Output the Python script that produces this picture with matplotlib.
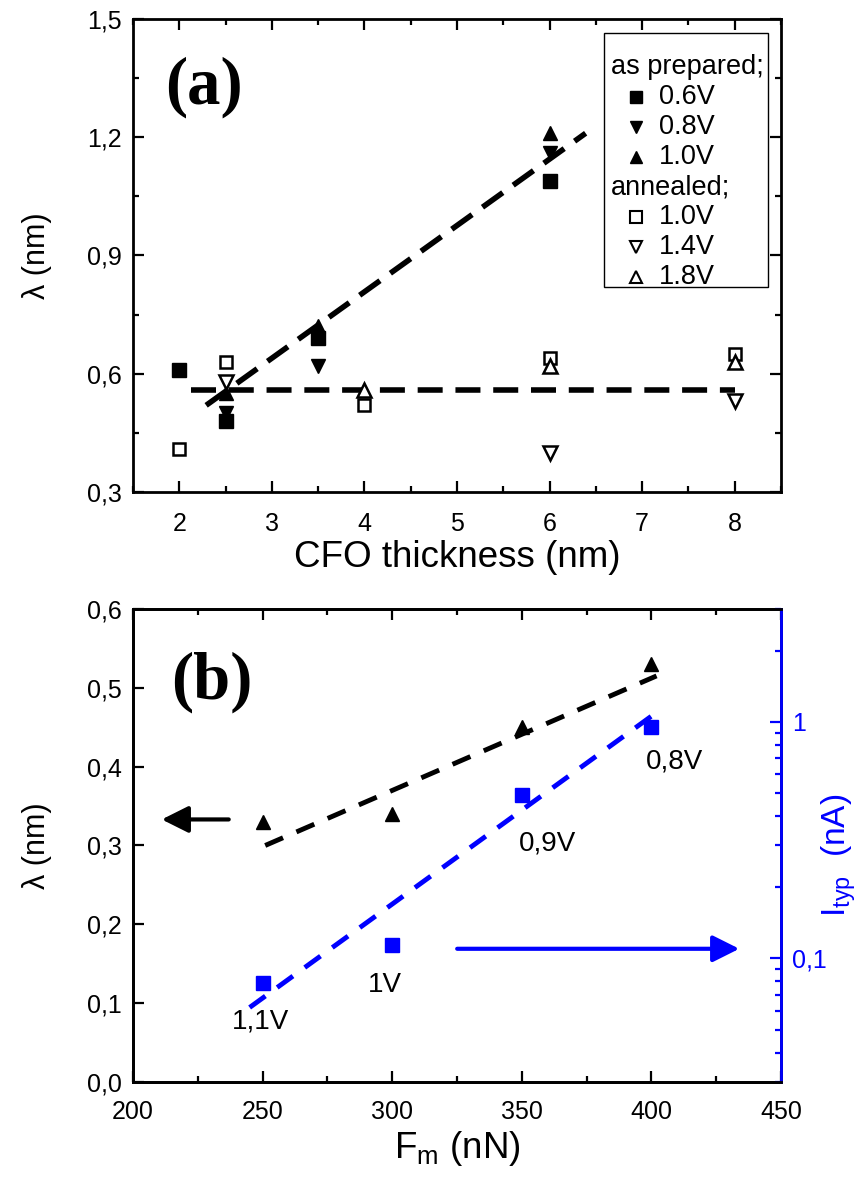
import matplotlib
matplotlib.use('Agg')
import matplotlib.pyplot as plt
from matplotlib.ticker import MultipleLocator, FuncFormatter, LogLocator, NullFormatter
from matplotlib.patches import Rectangle

plt.rcParams.update({
    'font.family': ['Liberation Sans', 'DejaVu Sans'],
    'font.size': 18,
    'axes.linewidth': 2.0,
    'xtick.direction': 'in',
    'ytick.direction': 'in',
    'xtick.top': True,
    'ytick.right': True,
    'xtick.major.size': 8,
    'ytick.major.size': 8,
    'xtick.minor.size': 4.5,
    'ytick.minor.size': 4.5,
    'xtick.major.width': 1.6,
    'ytick.major.width': 1.6,
    'xtick.minor.width': 1.6,
    'ytick.minor.width': 1.6,
})

# ---- panel (a): lambda vs CFO thickness ----
x_06 = [2, 2.5, 3.5, 6]
lam_06 = [0.61, 0.48, 0.69, 1.09]
x_08 = [2.5, 3.5, 6]
lam_08 = [0.50, 0.62, 1.16]
x_10 = [2.5, 3.5, 6]
lam_10 = [0.55, 0.72, 1.21]
x_an10 = [2, 2.5, 4, 6, 8]
lam_an10 = [0.41, 0.63, 0.52, 0.64, 0.65]
x_an14 = [2.5, 6, 8]
lam_an14 = [0.58, 0.40, 0.53]
x_an18 = [4, 6, 8]
lam_an18 = [0.56, 0.62, 0.63]

fit_flat_x = [2.13, 8.0]
fit_flat_y = [0.56, 0.56]
fit_rise_x = [2.29, 6.39]
fit_rise_y = [0.52, 1.21]

# ---- panel (b): lambda and I_typ vs load force ----
force = [250, 300, 350, 400]
lam_b = [0.33, 0.34, 0.45, 0.53]
i_typ = [0.0785, 0.114, 0.49, 0.95]
bias_labels = ['1,1V', '1V', '0,9V', '0,8V']
bias_x = [249, 297, 360, 409]
bias_y = [0.077, 0.123, 0.302, 0.407]

fit_lam_x = [251, 402]
fit_lam_y = [0.30, 0.515]
fit_i_x = [245, 402]
fit_i_y = [0.062, 1.095]

comma = FuncFormatter(lambda v, p: f'{v:.1f}'.replace('.', ','))

fig = plt.figure(figsize=(8.66, 11.8), dpi=100)
ax1 = fig.add_axes([0.1536, 0.583, 0.7482, 0.401])
ax2 = fig.add_axes([0.1536, 0.083, 0.7482, 0.401])

ms = 9.5
ax1.plot(fit_rise_x, fit_rise_y, color='k', lw=4, dashes=(4.5, 2.3), zorder=3)
ax1.plot(fit_flat_x, fit_flat_y, color='k', lw=4, dashes=(4.5, 2.3), zorder=3)
ax1.plot(x_06, lam_06, 's', color='k', ms=ms, zorder=4)
ax1.plot(x_08, lam_08, 'v', color='k', ms=ms + 1, zorder=4)
ax1.plot(x_10, lam_10, '^', color='k', ms=ms + 1, zorder=4)
ax1.plot(x_an10, lam_an10, 's', mfc='white', mec='k', mew=1.8, ms=ms - 1.5, zorder=4)
ax1.plot(x_an14, lam_an14, 'v', mfc='white', mec='k', mew=1.8, ms=ms, zorder=4)
ax1.plot(x_an18, lam_an18, '^', mfc='white', mec='k', mew=1.8, ms=ms, zorder=4)

ax1.set_xlim(1.5, 8.5)
ax1.set_ylim(0.3, 1.5)
ax1.xaxis.set_major_locator(MultipleLocator(1))
ax1.xaxis.set_minor_locator(MultipleLocator(0.5))
ax1.yaxis.set_major_locator(MultipleLocator(0.3))
ax1.yaxis.set_minor_locator(MultipleLocator(0.15))
ax1.yaxis.set_major_formatter(comma)
ax1.tick_params(axis='y', labelsize=18, pad=8)
ax1.tick_params(axis='x', labelsize=18, pad=14)
ax1.set_xlabel('CFO thickness (nm)', fontsize=26.5, labelpad=3.5)
ax1.set_ylabel('λ (nm)', fontsize=22)
ax1.yaxis.set_label_coords(-0.125, 0.5)
ax1.text(0.11, 0.856, '(a)', transform=ax1.transAxes, fontsize=48, fontweight='bold',
         family='Liberation Serif', ha='center', va='center')

# legend box drawn by hand
ax1.add_patch(Rectangle((0.727, 0.433), 0.253, 0.537, transform=ax1.transAxes,
                        fc='white', ec='k', lw=1.0, zorder=5))
leg_rows = [
    ('as prepared;', None, {}),
    ('0.6V', 's', dict(color='k')),
    ('0.8V', 'v', dict(color='k')),
    ('1.0V', '^', dict(color='k')),
    ('annealed;', None, {}),
    ('1.0V', 's', dict(mfc='white', mec='k', mew=1.5)),
    ('1.4V', 'v', dict(mfc='white', mec='k', mew=1.5)),
    ('1.8V', '^', dict(mfc='white', mec='k', mew=1.5)),
]
row_y0 = (492 - 67.5) / 473
row_dy = 30.0 / 473
for k, (lab, mk, kw) in enumerate(leg_rows):
    yy = row_y0 - k * row_dy
    if mk is None:
        ax1.text(0.737, yy, lab, transform=ax1.transAxes, fontsize=19.5, va='center', zorder=6)
    else:
        ax1.plot([0.776], [yy], mk, ms=8.5, transform=ax1.transAxes, zorder=6, clip_on=False, **kw)
        ax1.text(0.812, yy, lab, transform=ax1.transAxes, fontsize=19.5, va='center', zorder=6)

# ---- panel (b) ----
blue = '#0000ff'
ax3 = ax2.twinx()
ax2.plot(fit_lam_x, fit_lam_y, color='k', lw=3.5, dashes=(4, 3), zorder=3)
ax2.plot(force, lam_b, '^', color='k', ms=ms + 1, zorder=4)
ax3.set_yscale('log')
ax3.plot(fit_i_x, fit_i_y, color=blue, lw=3.5, dashes=(4, 3), zorder=3)
ax3.plot(force, i_typ, 's', color=blue, ms=ms, zorder=4)

for lab, bx, by in zip(bias_labels, bias_x, bias_y):
    ax2.text(bx, by, lab, fontsize=20, ha='center', va='center')

ax2.annotate('', xy=(210, 0.333), xytext=(238, 0.333),
             arrowprops=dict(arrowstyle='-|>,head_length=0.9,head_width=0.45', color='k', lw=3))
ax2.annotate('', xy=(435, 0.169), xytext=(324, 0.169),
             arrowprops=dict(arrowstyle='-|>,head_length=0.9,head_width=0.45', color=blue, lw=3))

ax2.set_xlim(200, 450)
ax2.set_ylim(0, 0.6)
ax2.xaxis.set_major_locator(MultipleLocator(50))
ax2.xaxis.set_minor_locator(MultipleLocator(25))
ax2.yaxis.set_major_locator(MultipleLocator(0.1))
ax2.yaxis.set_major_formatter(comma)
ax2.tick_params(axis='y', labelsize=18, pad=8, right=False)
ax2.tick_params(axis='x', labelsize=18, pad=13)
ax2.set_xlabel(r'F$_\mathregular{m}$ (nN)', fontsize=26.5, labelpad=3.5)
ax2.set_ylabel('λ (nm)', fontsize=22)
ax2.yaxis.set_label_coords(-0.125, 0.5)
ax2.text(0.122, 0.846, '(b)', transform=ax2.transAxes, fontsize=48, fontweight='bold',
         family='Liberation Serif', ha='center', va='center')

ax3.set_ylim(0.03, 3)
ax3.yaxis.set_major_locator(LogLocator(base=10, numticks=10))
ax3.yaxis.set_minor_locator(LogLocator(base=10, subs=range(2, 10), numticks=10))
ax3.yaxis.set_minor_formatter(NullFormatter())
ax3.yaxis.set_major_formatter(FuncFormatter(lambda v, p: f'{v:g}'.replace('.', ',')))
ax3.tick_params(axis='y', which='both', colors=blue, labelcolor=blue, labelsize=18, pad=8)
ax3.spines['right'].set_color(blue)
ax3.set_ylabel(r'I$_\mathregular{typ}$  (nA)', fontsize=24, color=blue)
ax3.yaxis.set_label_coords(1.059, 0.48)

fig.savefig('out.png', dpi=100)
